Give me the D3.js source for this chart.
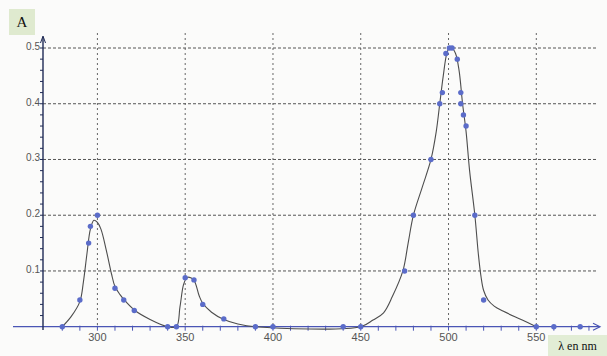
<!DOCTYPE html>
<html>
<head>
<meta charset="utf-8">
<script src="https://cdn.jsdelivr.net/npm/d3@7"></script>
<style>
html,body{margin:0;padding:0;background:#fbfbfa;}
svg{display:block;}
</style>
</head>
<body>
<script>
// measured points (wavelength nm, absorbance)
const pointX = [280,290,295,296,300,310,315,321,340,345,350,355,360,372,390,400,440,450,475,480,490,495,496.5,498.5,500.5,502,505,507,507,508.5,510,515,520,550,560,575];
const pointY = [0,0.048,0.15,0.18,0.20,0.069,0.048,0.029,0,0,0.088,0.084,0.04,0.014,0,0,0,0,0.10,0.20,0.30,0.40,0.42,0.49,0.50,0.50,0.48,0.42,0.40,0.38,0.36,0.20,0.048,0,0,0];
// drawn (smoothed) curve
const curveX = [280,285,290,292,294,296,298,300,302,305,308,310,313,315,321,330,340,345,347,349,350.5,352,355,358,360,365,372,380,390,450,457,463,468,474,477,480,485,490,493,495,497,499,500.5,502,504,506,508,510,512,515,517,518.5,520,522.5,526,531,542,550];
const curveY = [0,0.018,0.045,0.08,0.13,0.175,0.191,0.187,0.175,0.138,0.095,0.072,0.057,0.049,0.030,0.013,0,0,0.035,0.075,0.086,0.089,0.083,0.055,0.042,0.026,0.013,0.005,0,0,0.012,0.025,0.054,0.10,0.15,0.20,0.25,0.30,0.35,0.40,0.45,0.49,0.50,0.50,0.49,0.46,0.40,0.35,0.28,0.20,0.13,0.09,0.065,0.048,0.037,0.028,0.012,0];
const xTickLabels = [300,350,400,450,500,550];
const yTickLabels = [0.1,0.2,0.3,0.4,0.5];
const yLabel = "A";
const xLabel = "λ en nm";

const W = 607, H = 356;
const svg = d3.select("body").append("svg").attr("width", W).attr("height", H);

const x = d3.scaleLinear().domain([269, 586]).range([43, 599.5]);
const y = d3.scaleLinear().domain([0, 0.5]).range([326.7, 48]);

// grid
svg.append("g").selectAll("line").data(xTickLabels).join("line")
  .attr("x1", d => x(d)).attr("x2", d => x(d))
  .attr("y1", 33).attr("y2", y(0))
  .attr("stroke", "#666").attr("stroke-width", 1).attr("stroke-dasharray", "2,3");
svg.append("g").selectAll("line").data(yTickLabels).join("line")
  .attr("x1", x(269)).attr("x2", 597)
  .attr("y1", d => y(d)).attr("y2", d => y(d))
  .attr("stroke", "#555").attr("stroke-width", 1).attr("stroke-dasharray", "3,2");

// x axis
svg.append("line").attr("x1", 13).attr("x2", 600).attr("y1", y(0)).attr("y2", y(0))
  .attr("stroke", "#4a55b5").attr("stroke-width", 1.3);
svg.append("path").attr("d", `M${593},${y(0)-3.5} L600,${y(0)} L${593},${y(0)+3.5}`)
  .attr("fill", "none").attr("stroke", "#4a55b5").attr("stroke-width", 1.2);
const xMinor = d3.range(280, 590, 10);
svg.append("g").selectAll("line").data(xMinor).join("line")
  .attr("x1", d => x(d)).attr("x2", d => x(d))
  .attr("y1", y(0) - 1).attr("y2", y(0) + 4)
  .attr("stroke", "#4a55b5").attr("stroke-width", 1);
svg.append("g").selectAll("text").data(xTickLabels).join("text")
  .attr("x", d => x(d)).attr("y", 341)
  .attr("text-anchor", "middle")
  .attr("font-family", "Liberation Sans, Arial, sans-serif").attr("font-size", 11)
  .attr("fill", "#555").text(d => d);

// y axis
svg.append("line").attr("x1", x(269)).attr("x2", x(269)).attr("y1", 330).attr("y2", 37)
  .attr("stroke", "#1f2a55").attr("stroke-width", 1.4);
svg.append("path").attr("d", `M${x(269)-2.5},${43} L${x(269)},${36} L${x(269)+2.5},${43}`)
  .attr("fill", "none").attr("stroke", "#1f2a55").attr("stroke-width", 1);
const yMinor = d3.range(0.02, 0.51, 0.02);
svg.append("g").selectAll("line").data(yMinor).join("line")
  .attr("x1", x(269) - 3).attr("x2", x(269))
  .attr("y1", d => y(d)).attr("y2", d => y(d))
  .attr("stroke", "#1f2a55").attr("stroke-width", 1);
svg.append("g").selectAll("text").data(yTickLabels).join("text")
  .attr("x", 40).attr("y", d => y(d) + 2)
  .attr("text-anchor", "end")
  .attr("font-family", "Liberation Sans, Arial, sans-serif").attr("font-size", 10)
  .attr("fill", "#555").text(d => d.toFixed(1));

// curve
const line = d3.line().x(d => x(d[0])).y(d => y(d[1])).curve(d3.curveCatmullRom.alpha(0.5));
svg.append("path").datum(d3.zip(curveX, curveY)).attr("d", line)
  .attr("fill", "none").attr("stroke", "#4d4d4d").attr("stroke-width", 1.1);

// points
svg.append("g").selectAll("circle").data(d3.zip(pointX, pointY)).join("circle")
  .attr("cx", d => x(d[0])).attr("cy", d => y(d[1])).attr("r", 2.7)
  .attr("fill", "#5b6cc9");

// label boxes
svg.append("rect").attr("x", 9).attr("y", 9).attr("width", 26).attr("height", 26).attr("fill", "#dfeacf");
svg.append("text").attr("x", 22).attr("y", 27).attr("text-anchor", "middle")
  .attr("font-family", "Liberation Serif, Times New Roman, serif").attr("font-size", 15)
  .attr("fill", "#111").text(yLabel);
svg.append("rect").attr("x", 548).attr("y", 335).attr("width", 59).attr("height", 21).attr("fill", "#e2edd5");
svg.append("text").attr("x", 577.5).attr("y", 350).attr("text-anchor", "middle")
  .attr("font-family", "Liberation Serif, Times New Roman, serif").attr("font-size", 12)
  .attr("fill", "#111").text(xLabel);
</script>
</body>
</html>
